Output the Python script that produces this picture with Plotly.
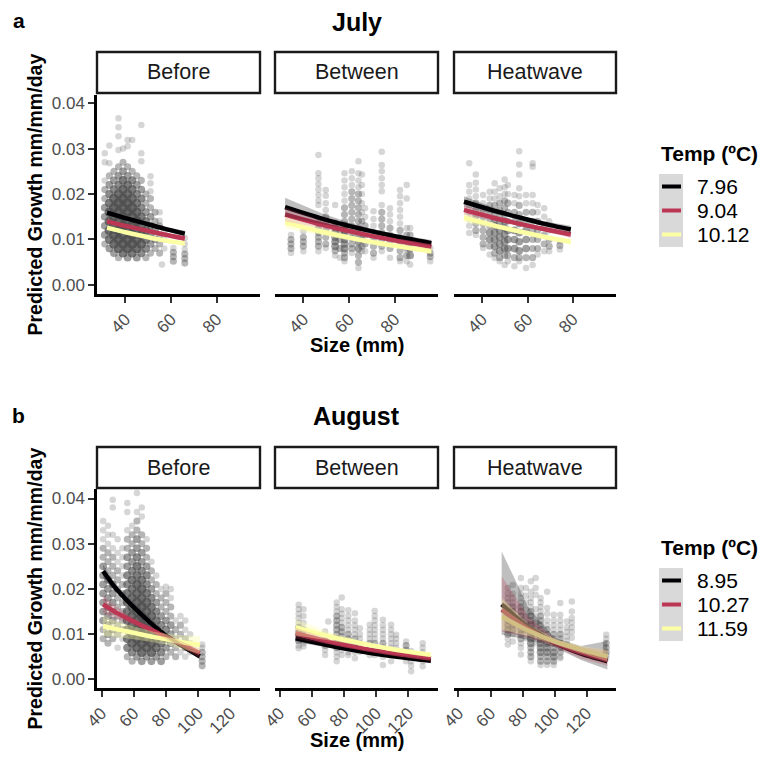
import plotly.graph_objects as go

W, H = 766, 758          # browser window
OFF = 8                  # default page margin around the figure div
FW, FH = W - OFF, H - OFF
FONT = "Liberation Sans, Arial, Helvetica, sans-serif"

PERIODS = ["Before", "Between", "Heatwave"]
MONTH_TITLES = ["July", "August"]
PANEL_TAGS = ["a", "b"]
TEMP_LABELS_JUL = ["7.96", "9.04", "10.12"]
TEMP_LABELS_AUG = ["8.95", "10.27", "11.59"]
TEMP_COLORS = ["#000004", "#BB3754", "#FCFFA4"]
TEMP_FILLS = ["rgba(0,0,4,0.25)", "rgba(187,55,84,0.25)", "rgba(252,255,164,0.35)"]
Y_TICKS = [0.00, 0.01, 0.02, 0.03, 0.04]
Y_TICK_TEXT = ["0.00", "0.01", "0.02", "0.03", "0.04"]
X_TICKS_JUL = [40, 60, 80]
X_TICKS_AUG = [40, 60, 80, 100, 120]

# ---------------- observed points: (size, [growth values], [overlap counts]) ----------------
JUL_BEFORE_PTS = [
    (31, [0.009, 0.011, 0.013, 0.015, 0.017, 0.019, 0.021, 0.023, 0.027, 0.029], [2, 3, 3, 3, 3, 2, 2, 1, 1, 1]),
    (33, [0.008, 0.010, 0.012, 0.014, 0.016, 0.018, 0.020, 0.022, 0.024, 0.0268, 0.0307], [3, 5, 6, 6, 6, 5, 4, 3, 2, 1, 1]),
    (35, [0.007, 0.009, 0.011, 0.013, 0.015, 0.017, 0.019, 0.021, 0.023, 0.025], [3, 6, 7, 7, 7, 7, 6, 4, 3, 2]),
    (37, [0.006, 0.008, 0.010, 0.012, 0.014, 0.016, 0.018, 0.020, 0.022, 0.024, 0.026, 0.0297, 0.0327, 0.0347, 0.0367], [2, 6, 7, 7, 7, 7, 7, 6, 4, 3, 2, 1, 1, 1, 1]),
    (39, [0.007, 0.009, 0.011, 0.013, 0.015, 0.017, 0.019, 0.021, 0.023, 0.025, 0.027, 0.030], [5, 7, 7, 7, 7, 7, 7, 6, 5, 3, 2, 1]),
    (41, [0.006, 0.008, 0.010, 0.012, 0.014, 0.016, 0.018, 0.020, 0.022, 0.024, 0.026, 0.0305, 0.0319], [3, 7, 7, 7, 7, 7, 7, 6, 5, 3, 2, 1, 1]),
    (43, [0.007, 0.009, 0.011, 0.013, 0.015, 0.017, 0.019, 0.021, 0.023, 0.025, 0.0319], [5, 7, 7, 7, 7, 7, 6, 5, 4, 2, 1]),
    (45, [0.006, 0.008, 0.010, 0.012, 0.014, 0.016, 0.018, 0.020, 0.022, 0.024], [3, 6, 7, 7, 7, 6, 5, 4, 3, 2]),
    (47, [0.007, 0.009, 0.011, 0.013, 0.015, 0.017, 0.019, 0.021, 0.023, 0.0272, 0.029, 0.0352], [4, 6, 6, 6, 5, 4, 4, 3, 2, 1, 1, 1]),
    (49, [0.006, 0.008, 0.010, 0.012, 0.014, 0.016, 0.018, 0.020], [2, 4, 5, 5, 4, 3, 2, 2]),
    (51, [0.007, 0.009, 0.011, 0.013, 0.015, 0.017, 0.019, 0.0206, 0.0224, 0.0239], [2, 3, 4, 4, 3, 2, 2, 1, 1, 1]),
    (53, [0.008, 0.010, 0.012, 0.014, 0.016], [2, 3, 3, 2, 2]),
    (55, [0.007, 0.009, 0.011, 0.013, 0.0141, 0.016], [2, 2, 2, 2, 1, 1]),
    (56, [0.0045], [1]),
    (57, [0.008, 0.010, 0.012], [1, 1, 1]),
    (61, [0.0052, 0.0062, 0.0072, 0.0081], [2, 2, 2, 1]),
    (66, [0.0048, 0.0058, 0.0068, 0.0078, 0.0090, 0.0103], [2, 2, 2, 1, 1, 1]),
]

JUL_BETWEEN_PTS = [
    (34.6, [0.007, 0.008, 0.009, 0.010, 0.011], [1, 2, 2, 2, 1]),
    (40.0, [0.0074, 0.0085, 0.0095, 0.0105, 0.0118], [1, 2, 2, 2, 1]),
    (46.6, [0.0286, 0.0246, 0.0235, 0.0222, 0.0210, 0.0198, 0.0186, 0.0176, 0.0136, 0.0125, 0.0115, 0.0105, 0.0095, 0.0085, 0.0074], [1, 1, 1, 1, 1, 1, 1, 1, 2, 2, 2, 2, 2, 2, 1]),
    (49.8, [0.0209, 0.0196, 0.0180, 0.0165, 0.0150, 0.0135, 0.0120, 0.0105, 0.0090, 0.0081], [1, 1, 1, 1, 2, 2, 2, 2, 2, 1]),
    (53.9, [0.0176, 0.0136, 0.0125, 0.0115, 0.0105, 0.0095, 0.0085, 0.0075, 0.0065], [1, 2, 2, 3, 3, 3, 3, 2, 1]),
    (56.0, [0.0120, 0.0100, 0.0080, 0.0060], [2, 2, 2, 1]),
    (58.0, [0.0246, 0.0230, 0.0215, 0.0200, 0.0185, 0.0170, 0.0155, 0.0140, 0.0130, 0.0120, 0.0110, 0.0100, 0.0090, 0.0080, 0.0070, 0.0060, 0.0052], [1, 1, 1, 1, 1, 2, 2, 2, 3, 3, 3, 3, 3, 3, 2, 2, 1]),
    (61.2, [0.0250, 0.0235, 0.0220, 0.0205, 0.0190, 0.0175, 0.0160, 0.0145, 0.0130, 0.0115, 0.0103, 0.0090, 0.0080, 0.0070], [1, 1, 1, 2, 2, 2, 2, 2, 2, 2, 2, 2, 2, 1]),
    (64.1, [0.0272, 0.0246, 0.0230, 0.0215, 0.0200, 0.0185, 0.0170, 0.0155, 0.0140, 0.0125, 0.0110, 0.0095, 0.0080, 0.0065, 0.0050, 0.0037], [1, 1, 1, 1, 2, 2, 2, 2, 2, 3, 3, 3, 3, 2, 2, 1]),
    (65.6, [0.0243, 0.0220, 0.0200, 0.0180, 0.0160, 0.0140, 0.0120, 0.0100, 0.0085, 0.0074], [1, 1, 1, 1, 1, 2, 2, 2, 2, 1]),
    (67.0, [0.0169, 0.0150, 0.0130, 0.0110, 0.0090, 0.0074], [1, 1, 2, 2, 2, 1]),
    (70.7, [0.0162, 0.0145, 0.0130, 0.0115, 0.0100, 0.0085, 0.0070, 0.0060], [1, 1, 1, 2, 2, 2, 2, 1]),
    (74.3, [0.0293, 0.0264, 0.0250, 0.0235, 0.0220, 0.0206, 0.0176, 0.0160, 0.0145, 0.0130, 0.0115, 0.0100, 0.0085, 0.0074], [1, 1, 1, 1, 1, 1, 1, 2, 2, 2, 2, 2, 2, 1]),
    (77.9, [0.0169, 0.0155, 0.0140, 0.0125, 0.0110, 0.0095, 0.0080, 0.0060], [1, 1, 1, 2, 2, 2, 2, 1]),
    (82.3, [0.0209, 0.0195, 0.0180, 0.0165, 0.0150, 0.0135, 0.0120, 0.0105, 0.0090, 0.0075, 0.0060, 0.0052], [1, 1, 1, 1, 1, 1, 2, 2, 2, 2, 2, 1]),
    (85.2, [0.0220, 0.0190, 0.0125, 0.0110, 0.0095, 0.0080, 0.0065, 0.0052], [1, 1, 1, 2, 2, 2, 2, 1]),
    (86.7, [0.0125, 0.0110, 0.0095, 0.0080, 0.0065, 0.0045], [1, 2, 2, 3, 3, 1]),
    (95.5, [0.0081, 0.0070, 0.0062, 0.0052], [1, 2, 2, 1]),
]

JUL_HEAT_PTS = [
    (34.3, [0.0268, 0.0220, 0.0205, 0.0190, 0.0175, 0.0160, 0.0145, 0.0130, 0.0114], [1, 1, 1, 1, 1, 1, 1, 1, 1]),
    (37.2, [0.0243, 0.0225, 0.0210, 0.0195, 0.0180, 0.0165, 0.0150, 0.0135, 0.0120, 0.0110], [1, 1, 1, 1, 2, 2, 2, 2, 2, 1]),
    (40.4, [0.0198, 0.0180, 0.0165, 0.0150, 0.0135, 0.0120, 0.0105, 0.0090, 0.0081], [1, 1, 2, 2, 2, 2, 2, 2, 1]),
    (43.3, [0.0205, 0.0190, 0.0175, 0.0160, 0.0145, 0.0130, 0.0115, 0.0100, 0.0085, 0.0067], [1, 1, 2, 2, 2, 2, 3, 3, 2, 1]),
    (45.5, [0.0224, 0.0205, 0.0190, 0.0175, 0.0160, 0.0145, 0.0130, 0.0115, 0.0100, 0.0085, 0.0070, 0.0059], [1, 1, 1, 2, 2, 3, 3, 3, 3, 3, 2, 1]),
    (47.7, [0.0213, 0.0195, 0.0180, 0.0165, 0.0150, 0.0135, 0.0120, 0.0105, 0.0090, 0.0075, 0.0060, 0.0052], [1, 1, 2, 2, 2, 3, 3, 3, 3, 3, 2, 1]),
    (49.9, [0.0232, 0.0215, 0.0200, 0.0185, 0.0170, 0.0155, 0.0140, 0.0125, 0.0110, 0.0095, 0.0080, 0.0065, 0.0044], [1, 1, 1, 2, 2, 2, 3, 3, 3, 3, 3, 2, 1]),
    (51.3, [0.0220, 0.0200, 0.0180, 0.0160, 0.0140, 0.0120, 0.0100, 0.0080, 0.0065, 0.0052], [1, 1, 2, 2, 2, 3, 3, 3, 2, 1]),
    (54.2, [0.0198, 0.0180, 0.0160, 0.0140, 0.0120, 0.0100, 0.0080, 0.0060, 0.0041], [1, 1, 2, 2, 3, 3, 3, 2, 1]),
    (56.3, [0.0294, 0.0265, 0.0243, 0.0213, 0.0195, 0.0175, 0.0155, 0.0135, 0.0115, 0.0095, 0.0075, 0.0060, 0.0052], [1, 1, 1, 1, 1, 2, 2, 3, 3, 3, 3, 2, 1]),
    (59.3, [0.0198, 0.0180, 0.0160, 0.0140, 0.0120, 0.0100, 0.0080, 0.0060, 0.0037], [1, 1, 2, 2, 3, 3, 3, 2, 1]),
    (62.2, [0.0268, 0.0260, 0.0198, 0.0180, 0.0160, 0.0140, 0.0120, 0.0100, 0.0080, 0.0060, 0.0044], [1, 1, 1, 1, 2, 2, 2, 2, 2, 2, 1]),
    (64.4, [0.0176, 0.0160, 0.0140, 0.0120, 0.0100, 0.0080, 0.0067], [1, 1, 2, 2, 2, 2, 1]),
    (67.3, [0.0169, 0.0150, 0.0130, 0.0110, 0.0090, 0.0074], [1, 1, 2, 2, 2, 1]),
    (69.5, [0.0140, 0.0120, 0.0100, 0.0085, 0.0074], [1, 1, 2, 2, 1]),
    (74.2, [0.0096, 0.0087, 0.0078], [1, 2, 1]),
]

AUG_BEFORE_PTS = [
    (41, [0.009, 0.011, 0.013, 0.015, 0.017, 0.019, 0.021, 0.023, 0.025, 0.027, 0.029, 0.031, 0.033, 0.035], [2, 2, 3, 3, 3, 3, 3, 3, 3, 2, 2, 1, 1, 1]),
    (44, [0.008, 0.010, 0.012, 0.014, 0.016, 0.018, 0.020, 0.022, 0.024, 0.026, 0.028, 0.030, 0.032, 0.034], [2, 3, 3, 3, 3, 3, 3, 3, 2, 2, 2, 1, 1, 1]),
    (47, [0.009, 0.011, 0.013, 0.015, 0.017, 0.019, 0.021, 0.023, 0.025, 0.027, 0.029, 0.032, 0.038, 0.0397], [2, 3, 3, 3, 3, 3, 3, 2, 2, 2, 1, 1, 1, 1]),
    (50, [0.007, 0.010, 0.012, 0.014, 0.016, 0.018, 0.020, 0.022, 0.024, 0.026, 0.028, 0.031], [1, 2, 2, 2, 2, 2, 2, 2, 2, 1, 1, 1]),
    (53, [0.009, 0.011, 0.013, 0.015, 0.017, 0.019, 0.021, 0.023, 0.025, 0.027, 0.029], [1, 2, 2, 2, 2, 2, 2, 1, 1, 1, 1]),
    (56, [0.005, 0.007, 0.009, 0.011, 0.013, 0.015, 0.017, 0.019, 0.021, 0.023, 0.025, 0.027, 0.029, 0.031, 0.033, 0.037, 0.039], [2, 4, 5, 5, 5, 5, 5, 5, 4, 4, 3, 3, 2, 2, 1, 1, 1]),
    (59, [0.004, 0.006, 0.008, 0.010, 0.012, 0.014, 0.016, 0.018, 0.020, 0.022, 0.024, 0.026, 0.028, 0.030, 0.032, 0.034], [2, 4, 6, 6, 6, 6, 6, 6, 5, 5, 4, 3, 3, 2, 2, 1]),
    (62, [0.005, 0.007, 0.009, 0.011, 0.013, 0.015, 0.017, 0.019, 0.021, 0.023, 0.025, 0.027, 0.029, 0.031, 0.033, 0.035, 0.037, 0.0412], [3, 6, 7, 7, 7, 7, 7, 6, 6, 5, 5, 4, 3, 3, 2, 2, 1, 1]),
    (65, [0.004, 0.006, 0.008, 0.010, 0.012, 0.014, 0.016, 0.018, 0.020, 0.022, 0.024, 0.026, 0.028, 0.030, 0.032, 0.036, 0.038], [3, 6, 7, 7, 7, 7, 7, 6, 6, 5, 4, 3, 3, 2, 2, 1, 1]),
    (68, [0.005, 0.007, 0.009, 0.011, 0.013, 0.015, 0.017, 0.019, 0.021, 0.023, 0.025, 0.027, 0.029, 0.031], [3, 6, 7, 7, 7, 6, 6, 5, 4, 4, 3, 2, 2, 1]),
    (71, [0.004, 0.006, 0.008, 0.010, 0.012, 0.014, 0.016, 0.018, 0.020, 0.022, 0.024, 0.026], [3, 6, 7, 7, 6, 6, 5, 4, 3, 2, 2, 1]),
    (74, [0.005, 0.007, 0.009, 0.011, 0.013, 0.015, 0.017, 0.019, 0.021, 0.023], [3, 5, 6, 6, 5, 4, 3, 2, 2, 1]),
    (77, [0.004, 0.006, 0.008, 0.010, 0.012, 0.014, 0.016, 0.018, 0.020], [3, 4, 5, 5, 4, 3, 2, 2, 1]),
    (80, [0.005, 0.007, 0.009, 0.011, 0.013, 0.015, 0.017, 0.019, 0.0205], [2, 3, 4, 4, 3, 2, 2, 2, 1]),
    (83, [0.006, 0.008, 0.010, 0.012, 0.014, 0.016, 0.018, 0.020], [2, 3, 3, 3, 2, 2, 1, 1]),
    (86, [0.005, 0.007, 0.009, 0.011, 0.013], [2, 2, 2, 2, 1]),
    (89, [0.006, 0.008, 0.010, 0.012, 0.014], [1, 2, 2, 2, 1]),
    (92, [0.005, 0.007, 0.009, 0.011, 0.013], [1, 2, 2, 1, 1]),
    (95, [0.006, 0.008, 0.010], [1, 1, 1]),
    (102.5, [0.003, 0.004, 0.005, 0.006, 0.007, 0.0077], [2, 2, 2, 2, 1, 1]),
]

AUG_BETWEEN_PTS = [
    (51.9, [0.0165, 0.0155, 0.0145, 0.0135, 0.0125, 0.0115, 0.0105, 0.0095, 0.0085, 0.0075, 0.0069], [1, 1, 1, 1, 1, 2, 2, 2, 2, 1, 1]),
    (54.9, [0.0155, 0.0140, 0.0125, 0.0110, 0.0095, 0.0080, 0.0073], [1, 1, 1, 2, 2, 1, 1]),
    (68.3, [0.0106, 0.0095, 0.0085, 0.0075, 0.0065, 0.0054], [1, 1, 2, 2, 1, 1]),
    (70.3, [0.0128], [1]),
    (75.5, [0.017, 0.016, 0.015, 0.014, 0.013, 0.012, 0.011, 0.010, 0.009, 0.008, 0.007, 0.006, 0.005, 0.004], [1, 1, 1, 2, 2, 2, 2, 2, 2, 2, 2, 1, 1, 1]),
    (78.6, [0.0181, 0.0155, 0.0145, 0.0135, 0.0125, 0.0115, 0.0105, 0.0095, 0.0085, 0.0075, 0.0065, 0.0054], [1, 1, 1, 1, 1, 2, 2, 2, 2, 2, 1, 1]),
    (82.7, [0.0153, 0.014, 0.013, 0.012, 0.011, 0.010, 0.009, 0.008, 0.007, 0.006, 0.0054], [1, 1, 1, 1, 1, 2, 2, 2, 2, 1, 1]),
    (86.8, [0.0146, 0.013, 0.012, 0.011, 0.010, 0.009, 0.008, 0.007, 0.006, 0.0047], [1, 1, 1, 1, 1, 2, 2, 2, 1, 1]),
    (89.9, [0.0113, 0.0100, 0.0090, 0.0080, 0.0061], [1, 1, 1, 1, 1]),
    (96.0, [0.0121, 0.011, 0.010, 0.009, 0.008, 0.007, 0.0054], [1, 1, 1, 1, 2, 1, 1]),
    (99.1, [0.0151, 0.014, 0.013, 0.012, 0.011, 0.010, 0.009, 0.008, 0.007, 0.006, 0.0054], [1, 1, 1, 1, 1, 1, 1, 2, 2, 1, 1]),
    (104.2, [0.0132, 0.012, 0.011, 0.010, 0.009, 0.008, 0.007, 0.006, 0.005, 0.0032], [1, 1, 1, 1, 1, 2, 2, 1, 1, 1]),
    (109.3, [0.0121, 0.011, 0.010, 0.009, 0.008, 0.007, 0.006, 0.0040], [1, 1, 1, 1, 1, 1, 1, 1]),
    (112.4, [0.0099, 0.009, 0.008, 0.007, 0.0054], [1, 1, 1, 1, 1]),
    (118.6, [0.0084, 0.0075, 0.0065, 0.0055, 0.0040], [1, 2, 2, 1, 1]),
    (121.7, [0.0063, 0.005, 0.004, 0.0030, 0.0018], [1, 1, 1, 1, 1]),
    (128.9, [0.0080, 0.007, 0.006, 0.005, 0.004, 0.0029], [1, 1, 1, 1, 1, 1]),
]

AUG_HEAT_PTS = [
    (70.8, [0.0202, 0.019, 0.018, 0.017, 0.016, 0.015, 0.014, 0.013, 0.012, 0.011, 0.010, 0.009, 0.0077], [1, 1, 1, 1, 1, 1, 2, 2, 2, 2, 2, 1, 1]),
    (73.9, [0.0209, 0.019, 0.018, 0.017, 0.016, 0.015, 0.014, 0.013, 0.012, 0.011, 0.010, 0.0084], [1, 1, 1, 1, 2, 2, 2, 2, 2, 2, 1, 1]),
    (79.0, [0.0224, 0.0202, 0.019, 0.018, 0.017, 0.016, 0.015, 0.014, 0.013, 0.012, 0.011, 0.010, 0.009, 0.008, 0.007, 0.0055], [1, 1, 1, 1, 1, 2, 2, 2, 2, 2, 2, 2, 2, 1, 1, 1]),
    (82.1, [0.0202, 0.0185, 0.017, 0.0155, 0.014, 0.0125, 0.011, 0.0091], [1, 1, 1, 1, 2, 2, 2, 1]),
    (85.2, [0.0217, 0.0194, 0.018, 0.017, 0.016, 0.015, 0.014, 0.013, 0.012, 0.011, 0.010, 0.009, 0.008, 0.007, 0.006, 0.005, 0.004], [1, 1, 1, 1, 1, 2, 2, 2, 3, 3, 3, 3, 3, 2, 2, 2, 1]),
    (88.2, [0.0224, 0.0202, 0.0187, 0.0155, 0.014, 0.0125, 0.011, 0.0095, 0.008], [1, 1, 1, 1, 1, 2, 2, 2, 1]),
    (91.3, [0.018, 0.017, 0.016, 0.015, 0.014, 0.013, 0.012, 0.011, 0.010, 0.009, 0.008, 0.007, 0.006, 0.005, 0.004, 0.0032], [1, 1, 1, 1, 2, 2, 2, 2, 3, 3, 3, 3, 3, 2, 2, 1]),
    (95.4, [0.0194, 0.0158, 0.0145, 0.013, 0.012, 0.011, 0.010, 0.009, 0.008, 0.007, 0.006, 0.005, 0.004, 0.0032], [1, 1, 1, 1, 1, 2, 2, 2, 3, 3, 3, 2, 2, 1]),
    (99.5, [0.0143, 0.013, 0.012, 0.011, 0.010, 0.009, 0.008, 0.007, 0.006, 0.005, 0.004, 0.0032], [1, 1, 1, 1, 2, 2, 2, 2, 3, 3, 2, 1]),
    (103.6, [0.0169, 0.0143, 0.013, 0.012, 0.011, 0.010, 0.009, 0.008, 0.007, 0.006, 0.005, 0.0047], [1, 1, 1, 1, 1, 2, 2, 2, 2, 2, 1, 1]),
    (107.7, [0.0128, 0.0115, 0.0105, 0.0095, 0.0085, 0.0077], [1, 1, 1, 1, 1, 1]),
    (110.8, [0.0172, 0.015, 0.0136, 0.0125, 0.0115, 0.0105, 0.0092], [1, 1, 1, 1, 1, 1, 1]),
    (132.3, [0.0099, 0.009, 0.008, 0.007, 0.006, 0.0053, 0.0047], [1, 1, 2, 2, 2, 1, 1]),
]

# ---------------- predicted growth curves (per temperature: low, mid, high) ----------------
JUL_BEFORE_SIZE = [32, 40, 49, 57, 66]
JUL_BEFORE_FIT = [[0.0159, 0.0147, 0.0135, 0.0124, 0.0113],
                  [0.0140, 0.0130, 0.0120, 0.0111, 0.0102],
                  [0.0126, 0.0116, 0.0106, 0.0098, 0.0091]]
JUL_BEFORE_HI = [[0.0165, 0.0151, 0.0138, 0.0128, 0.0119],
                 [0.0145, 0.0133, 0.0123, 0.0115, 0.0107],
                 [0.0131, 0.0119, 0.0109, 0.0102, 0.0096]]
JUL_BEFORE_LO = [[0.0153, 0.0143, 0.0132, 0.0120, 0.0107],
                 [0.0135, 0.0127, 0.0117, 0.0107, 0.0097],
                 [0.0121, 0.0113, 0.0103, 0.0094, 0.0086]]

JUL_BETWEEN_SIZE = [32, 48, 64, 80, 96]
JUL_BETWEEN_FIT = [[0.0171, 0.0146, 0.0125, 0.0107, 0.0092],
                   [0.0155, 0.0133, 0.0114, 0.0098, 0.0084],
                   [0.0137, 0.0117, 0.0100, 0.0086, 0.0074]]
JUL_BETWEEN_HI = [[0.0192, 0.0158, 0.0131, 0.0112, 0.0099],
                  [0.0170, 0.0142, 0.0119, 0.0103, 0.0090],
                  [0.0150, 0.0125, 0.0105, 0.0091, 0.0080]]
JUL_BETWEEN_LO = [[0.0150, 0.0134, 0.0119, 0.0102, 0.0085],
                  [0.0140, 0.0124, 0.0109, 0.0093, 0.0078],
                  [0.0124, 0.0109, 0.0095, 0.0081, 0.0068]]

JUL_HEAT_SIZE = [32, 44, 56, 67, 79]
JUL_HEAT_FIT = [[0.0183, 0.0165, 0.0149, 0.0135, 0.0122],
                [0.0165, 0.0149, 0.0135, 0.0123, 0.0111],
                [0.0148, 0.0132, 0.0118, 0.0106, 0.0095]]
JUL_HEAT_HI = [[0.0195, 0.0172, 0.0153, 0.0140, 0.0130],
               [0.0176, 0.0155, 0.0139, 0.0128, 0.0118],
               [0.0158, 0.0138, 0.0122, 0.0111, 0.0102]]
JUL_HEAT_LO = [[0.0171, 0.0158, 0.0145, 0.0130, 0.0114],
               [0.0154, 0.0143, 0.0131, 0.0118, 0.0104],
               [0.0138, 0.0126, 0.0114, 0.0101, 0.0088]]

AUG_BEFORE_SIZE = [41, 48, 56, 64, 72, 80, 90, 101]
AUG_BEFORE_FIT = [[0.0239, 0.0205, 0.0174, 0.0146, 0.0120, 0.0097, 0.0074, 0.0051],
                  [0.0166, 0.0150, 0.0135, 0.0121, 0.0108, 0.0094, 0.0077, 0.0058],
                  [0.0118, 0.0112, 0.0106, 0.0100, 0.0094, 0.0089, 0.0082, 0.0076]]
AUG_BEFORE_HI = [[0.0254, 0.0215, 0.0181, 0.0151, 0.0124, 0.0101, 0.0079, 0.0058],
                 [0.0186, 0.0164, 0.0144, 0.0127, 0.0113, 0.0099, 0.0084, 0.0068],
                 [0.0140, 0.0130, 0.0121, 0.0113, 0.0106, 0.0101, 0.0097, 0.0096]]
AUG_BEFORE_LO = [[0.0224, 0.0195, 0.0167, 0.0141, 0.0116, 0.0093, 0.0069, 0.0044],
                 [0.0146, 0.0136, 0.0126, 0.0115, 0.0103, 0.0089, 0.0070, 0.0048],
                 [0.0096, 0.0094, 0.0091, 0.0087, 0.0082, 0.0077, 0.0067, 0.0056]]

AUG_BETWEEN_SIZE = [50, 71, 92, 113, 134]
AUG_BETWEEN_FIT = [[0.0091, 0.0075, 0.0061, 0.0050, 0.0041],
                   [0.0102, 0.0083, 0.0068, 0.0056, 0.0046],
                   [0.0115, 0.0095, 0.0079, 0.0065, 0.0054]]
AUG_BETWEEN_HI = [[0.0100, 0.0080, 0.0065, 0.0054, 0.0045],
                  [0.0114, 0.0089, 0.0072, 0.0060, 0.0050],
                  [0.0133, 0.0104, 0.0084, 0.0070, 0.0059]]
AUG_BETWEEN_LO = [[0.0082, 0.0070, 0.0057, 0.0046, 0.0037],
                  [0.0090, 0.0077, 0.0064, 0.0052, 0.0042],
                  [0.0097, 0.0086, 0.0074, 0.0060, 0.0049]]

AUG_HEAT_SIZE = [67, 83.5, 100, 116.5, 133]
AUG_HEAT_FIT = [[0.0166, 0.0116, 0.0081, 0.0057, 0.0040],
                [0.0154, 0.0112, 0.0081, 0.0059, 0.0043],
                [0.0139, 0.0108, 0.0084, 0.0066, 0.0051]]
AUG_HEAT_HI = [[0.0283, 0.0160, 0.0092, 0.0074, 0.0085],
               [0.0228, 0.0140, 0.0090, 0.0072, 0.0065],
               [0.0180, 0.0122, 0.0090, 0.0074, 0.0065]]
AUG_HEAT_LO = [[0.0099, 0.0087, 0.0071, 0.0043, 0.0022],
               [0.0106, 0.0092, 0.0072, 0.0046, 0.0030],
               [0.0110, 0.0096, 0.0078, 0.0058, 0.0040]]

POINTS = [[JUL_BEFORE_PTS, JUL_BETWEEN_PTS, JUL_HEAT_PTS],
          [AUG_BEFORE_PTS, AUG_BETWEEN_PTS, AUG_HEAT_PTS]]
CURVES = [[(JUL_BEFORE_SIZE, JUL_BEFORE_FIT, JUL_BEFORE_LO, JUL_BEFORE_HI),
           (JUL_BETWEEN_SIZE, JUL_BETWEEN_FIT, JUL_BETWEEN_LO, JUL_BETWEEN_HI),
           (JUL_HEAT_SIZE, JUL_HEAT_FIT, JUL_HEAT_LO, JUL_HEAT_HI)],
          [(AUG_BEFORE_SIZE, AUG_BEFORE_FIT, AUG_BEFORE_LO, AUG_BEFORE_HI),
           (AUG_BETWEEN_SIZE, AUG_BETWEEN_FIT, AUG_BETWEEN_LO, AUG_BETWEEN_HI),
           (AUG_HEAT_SIZE, AUG_HEAT_FIT, AUG_HEAT_LO, AUG_HEAT_HI)]]
TEMP_LABELS = [TEMP_LABELS_JUL, TEMP_LABELS_AUG]
X_TICKS = [X_TICKS_JUL, X_TICKS_AUG]

# ---------------- layout geometry (window pixels) ----------------
PANEL_X = [(97, 260), (275, 438), (454, 616)]
PANEL_Y = [(95, 294), (489, 688)]
STRIP_Y = [(52, 93), (447, 488)]
X_RANGES = [[27.6, 98.9], [37.2, 138.4]]
Y_RANGES = [[-0.0020, 0.0418], [-0.0019, 0.0421]]
TITLE_Y = [22, 416]
XTITLE_Y = [345, 740]
LEG_TOP = [174, 568]
BASE_ALPHA = 0.23


def px(x):
    return (x - OFF) / FW


def py(y):
    return 1 - (y - OFF) / FH


fig = go.Figure()
shapes, annotations = [], []
layout = {}

for r in range(2):
    for c in range(3):
        k = r * 3 + c + 1
        sfx = "" if k == 1 else str(k)
        xa, ya = "x" + sfx, "y" + sfx

        xs, ys, ops, szs = [], [], [], []
        for size, vals, counts in POINTS[r][c]:
            for v, n in zip(vals, counts):
                xs.append(size)
                ys.append(v)
                ops.append(1 - (1 - BASE_ALPHA) ** n)
                szs.append(min(6.5 + 0.6 * (n - 1), 10))
        fig.add_trace(go.Scatter(
            x=xs, y=ys, mode="markers", xaxis=xa, yaxis=ya, showlegend=False,
            hoverinfo="skip",
            marker=dict(size=szs, color="#4D4D4D", opacity=ops, line=dict(width=0))))

        size, fit, lo, hi = CURVES[r][c]
        for t in range(3):
            fig.add_trace(go.Scatter(
                x=size, y=fit[t], mode="lines", xaxis=xa, yaxis=ya, showlegend=False,
                name=TEMP_LABELS[r][t], line=dict(color=TEMP_COLORS[t], width=4.5, shape="spline", smoothing=0.6)))
        for t in range(3):
            fig.add_trace(go.Scatter(
                x=list(size) + list(size)[::-1], y=list(hi[t]) + list(lo[t])[::-1],
                mode="lines", fill="toself", fillcolor=TEMP_FILLS[t], line=dict(width=0),
                xaxis=xa, yaxis=ya, showlegend=False, hoverinfo="skip"))

        x0, x1 = PANEL_X[c]
        y0, y1 = PANEL_Y[r]
        first = c == 0
        layout["xaxis" + sfx] = dict(
            domain=[px(x0), px(x1)], range=X_RANGES[r], anchor=ya, automargin=False,
            tickvals=X_TICKS[r], ticktext=[str(v) for v in X_TICKS[r]],
            tickangle=-45, ticks="outside", ticklen=6, tickwidth=2, tickcolor="#333333",
            tickfont=dict(family=FONT, size=17, color="#4D4D4D"),
            showline=True, linecolor="black", linewidth=2.5,
            showgrid=False, zeroline=False, fixedrange=True)
        layout["yaxis" + sfx] = dict(
            domain=[py(y1), py(y0)], range=Y_RANGES[r], anchor=xa, automargin=False,
            tickvals=Y_TICKS, ticktext=Y_TICK_TEXT,
            ticks="outside" if first else "", ticklen=6, tickwidth=2, tickcolor="#333333",
            showticklabels=first,
            tickfont=dict(family=FONT, size=17, color="#4D4D4D"),
            showline=first, linecolor="black", linewidth=2.5,
            showgrid=False, zeroline=False, fixedrange=True)

        # facet strip
        sy0, sy1 = STRIP_Y[r]
        shapes.append(dict(type="rect", xref="paper", yref="paper",
                           x0=px(x0), x1=px(x1), y0=py(sy1), y1=py(sy0),
                           line=dict(color="#1A1A1A", width=2.4), fillcolor="white", layer="below"))
        annotations.append(dict(text=PERIODS[c], xref="paper", yref="paper",
                                x=px((x0 + x1) / 2), y=py((sy0 + sy1) / 2),
                                xanchor="center", yanchor="middle", showarrow=False,
                                font=dict(family=FONT, size=21.5, color="#1A1A1A")))

    # row titles and labels
    annotations.append(dict(text="<b>" + MONTH_TITLES[r] + "</b>", xref="paper", yref="paper",
                            x=px(356.5), y=py(TITLE_Y[r]), xanchor="center", yanchor="middle",
                            showarrow=False, font=dict(family=FONT, size=25, color="black")))
    annotations.append(dict(text="<b>" + PANEL_TAGS[r] + "</b>", xref="paper", yref="paper",
                            x=px(18.5), y=py(TITLE_Y[r] - 1), xanchor="center", yanchor="middle",
                            showarrow=False, font=dict(family=FONT, size=21, color="black")))
    annotations.append(dict(text="<b>Size (mm)</b>", xref="paper", yref="paper",
                            x=px(356.5), y=py(XTITLE_Y[r]), xanchor="center", yanchor="middle",
                            showarrow=False, font=dict(family=FONT, size=20, color="black")))
    annotations.append(dict(text="<b>Predicted Growth mm/mm/day</b>", xref="paper", yref="paper",
                            x=px(34), y=py((PANEL_Y[r][0] + PANEL_Y[r][1]) / 2), textangle=-90,
                            xanchor="center", yanchor="middle", showarrow=False,
                            font=dict(family=FONT, size=19.5, color="black")))

    # legend (Temp)
    top = LEG_TOP[r]
    annotations.append(dict(text="<b>Temp (ºC)</b>", xref="paper", yref="paper",
                            x=px(659), y=py(top - 21), xanchor="left", yanchor="middle",
                            showarrow=False, font=dict(family=FONT, size=21, color="black")))
    shapes.append(dict(type="rect", xref="paper", yref="paper",
                       x0=px(659), x1=px(683), y0=py(top + 73), y1=py(top),
                       line=dict(width=0), fillcolor="#D9D9D9", layer="below"))
    for t in range(3):
        yc = top + 12.5 + t * 24
        shapes.append(dict(type="line", xref="paper", yref="paper",
                           x0=px(662), x1=px(681), y0=py(yc), y1=py(yc),
                           line=dict(color=TEMP_COLORS[t], width=4)))
        annotations.append(dict(text=TEMP_LABELS[r][t], xref="paper", yref="paper",
                                x=px(695), y=py(yc), xanchor="left", yanchor="middle",
                                showarrow=False, font=dict(family=FONT, size=21, color="black")))

fig.update_layout(
    width=FW, height=FH, margin=dict(l=0, r=0, t=0, b=0, autoexpand=False),
    paper_bgcolor="white", plot_bgcolor="rgba(0,0,0,0)",
    shapes=shapes, annotations=annotations, showlegend=False,
    font=dict(family=FONT), **layout)

fig.write_html("out.html")
